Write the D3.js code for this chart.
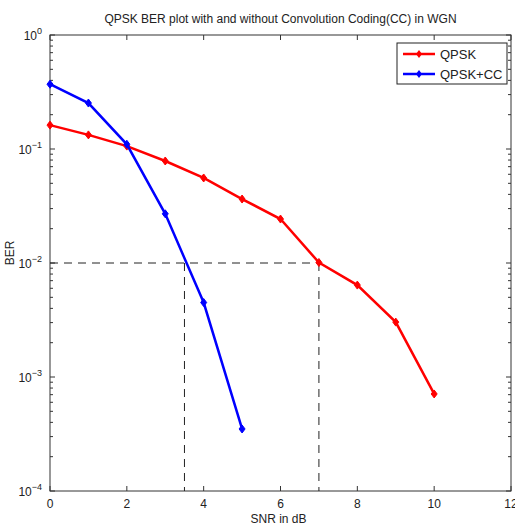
<!DOCTYPE html>
<meta charset="utf-8">
<script src="https://d3js.org/d3.v7.min.js"></script>
<style>
  body { margin: 0; background: #fff; }
  text { font-family: "Liberation Sans", Arial, sans-serif; fill: #222; }
</style>
<div id="chart"></div>
<script>
// data
const snr = [0, 1, 2, 3, 4, 5, 6, 7, 8, 9, 10];
const berQpsk = [0.162, 0.133, 0.106, 0.0785, 0.0557, 0.0364, 0.0243, 0.0101, 0.0064, 0.00303, 0.00071];
const snrCC = [0, 1, 2, 3, 4, 5];
const berQpskCC = [0.37, 0.253, 0.11, 0.027, 0.0045, 0.00035];
const xTicks = [0, 2, 4, 6, 8, 10, 12];
const yDecades = [0, -1, -2, -3, -4];
const refBer = 0.01;
const refSnr = [3.5, 7];

const W = 515, H = 527;
const margin = {top: 35, right: 4, bottom: 36, left: 50};
const width = W - margin.left - margin.right,
      height = H - margin.top - margin.bottom;

const svg = d3.select("#chart").append("svg")
  .attr("width", W).attr("height", H);

const g = svg.append("g").attr("transform", `translate(${margin.left},${margin.top})`);

const x = d3.scaleLinear().domain([0, 12]).range([0, width]);
const y = d3.scaleLog().domain([1e-4, 1]).range([height, 0]);

// box
g.append("rect").attr("width", width).attr("height", height)
  .attr("fill", "none").attr("stroke", "#333").attr("stroke-width", 1);

// x ticks (inside, top and bottom)
xTicks.forEach(t => {
  g.append("line").attr("x1", x(t)).attr("x2", x(t)).attr("y1", height).attr("y2", height - 5)
    .attr("stroke", "#333");
  g.append("line").attr("x1", x(t)).attr("x2", x(t)).attr("y1", 0).attr("y2", 5)
    .attr("stroke", "#333");
  g.append("text").attr("x", x(t)).attr("y", height + 17)
    .attr("text-anchor", "middle").style("font-size", "12px").text(t);
});

// y ticks major + minor
yDecades.forEach(d => {
  const yy = y(Math.pow(10, d));
  g.append("line").attr("x1", 0).attr("x2", 5).attr("y1", yy).attr("y2", yy).attr("stroke", "#333");
  g.append("line").attr("x1", width).attr("x2", width - 5).attr("y1", yy).attr("y2", yy).attr("stroke", "#333");
  const lab = g.append("text").attr("x", -8).attr("y", yy + 5)
    .attr("text-anchor", "end").style("font-size", "12px");
  lab.append("tspan").text("10");
  lab.append("tspan").attr("dy", -6).style("font-size", "9px").text(d === 0 ? "0" : "\u2212" + (-d));
  if (d > -4) {
    for (let m = 2; m <= 9; m++) {
      const ym = y(m * Math.pow(10, d - 1));
      g.append("line").attr("x1", 0).attr("x2", 3).attr("y1", ym).attr("y2", ym).attr("stroke", "#333");
      g.append("line").attr("x1", width).attr("x2", width - 3).attr("y1", ym).attr("y2", ym).attr("stroke", "#333");
    }
  }
});

// dashed reference lines
const dash = "8,6";
g.append("line").attr("x1", x(0)).attr("x2", x(refSnr[1])).attr("y1", y(refBer)).attr("y2", y(refBer))
  .attr("stroke", "#222").attr("stroke-dasharray", dash);
refSnr.forEach(s => {
  g.append("line").attr("x1", x(s)).attr("x2", x(s)).attr("y1", y(refBer)).attr("y2", y(1e-4))
    .attr("stroke", "#222").attr("stroke-dasharray", dash);
});

const line = d3.line().x(d => x(d[0])).y(d => y(d[1]));

function series(xs, ys, color) {
  const pts = xs.map((v, i) => [v, ys[i]]);
  g.append("path").datum(pts).attr("d", line)
    .attr("fill", "none").attr("stroke", color).attr("stroke-width", 2.5);
  g.selectAll(null).data(pts).join("path")
    .attr("transform", d => `translate(${x(d[0])},${y(d[1])})`)
    .attr("d", "M0,-4L3,0L0,4L-3,0Z")
    .attr("fill", color).attr("stroke", color).attr("stroke-width", 1);
}
series(snr, berQpsk, "#ff0000");
series(snrCC, berQpskCC, "#0000ff");

// legend
const lg = g.append("g").attr("transform", `translate(${width - 114},${8})`);
lg.append("rect").attr("width", 110).attr("height", 41)
  .attr("fill", "#fff").attr("stroke", "#222");
[["QPSK", "#ff0000"], ["QPSK+CC", "#0000ff"]].forEach((item, i) => {
  const ly = 11 + i * 20;
  lg.append("line").attr("x1", 6).attr("x2", 38).attr("y1", ly).attr("y2", ly)
    .attr("stroke", item[1]).attr("stroke-width", 2.5);
  lg.append("path").attr("transform", `translate(22,${ly})`).attr("d", "M0,-4L3,0L0,4L-3,0Z")
    .attr("fill", item[1]);
  lg.append("text").attr("x", 43).attr("y", ly + 5).style("font-size", "13px").text(item[0]);
});

// title and axis labels
svg.append("text").attr("x", margin.left + width / 2).attr("y", 23)
  .attr("text-anchor", "middle").style("font-size", "12px")
  .text("QPSK BER plot with and without Convolution Coding(CC) in WGN");
svg.append("text").attr("x", margin.left + width / 2 - 2).attr("y", 523)
  .attr("text-anchor", "middle").style("font-size", "12px").text("SNR in dB");
svg.append("text").attr("transform", `translate(14,${margin.top + height / 2 - 10}) rotate(-90)`)
  .attr("text-anchor", "middle").style("font-size", "12px").text("BER");
</script>
